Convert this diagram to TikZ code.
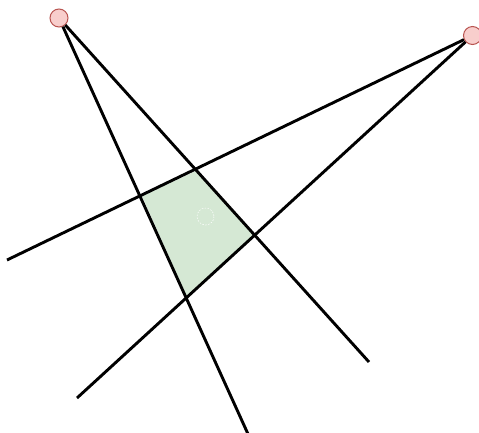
\documentclass[tikz,border=0pt]{standalone}
\begin{document}
\begin{tikzpicture}[x=1pt,y=-1pt,
  pt/.style={circle,draw={rgb,255:red,184;green,84;blue,80},fill={rgb,255:red,248;green,206;blue,204},line width=1pt,minimum size=18pt,inner sep=0pt},
  ray/.style={line width=2.9pt,black},
  region/.style={fill={rgb,255:red,213;green,232;blue,212}},
  ghost/.style={draw=white,line width=0.5pt,dash pattern=on 1.5pt off 1.5pt}]
\useasboundingbox (0,0) rectangle (479,432);
\coordinate (q1) at (142,196);
\coordinate (q2) at (196,171);
\coordinate (q3) at (254,236);
\coordinate (q4) at (187,297);
\fill[region] (q1) -- (q2) -- (q3) -- (q4) -- cycle;
\draw[ghost] (205.5,216.5) circle (8.5);
\coordinate (e1) at (248,434);
\coordinate (e2) at (369,362);
\coordinate (e3) at (7,260);
\coordinate (e4) at (77,398);
\node[pt] (p1) at (59,18) {};
\node[pt] (p2) at (472.5,35.5) {};
\draw[ray] (p1) -- (e1);
\draw[ray] (p1) -- (e2);
\draw[ray] (p2) -- (e3);
\draw[ray] (p2) -- (e4);
\end{tikzpicture}
\end{document}
